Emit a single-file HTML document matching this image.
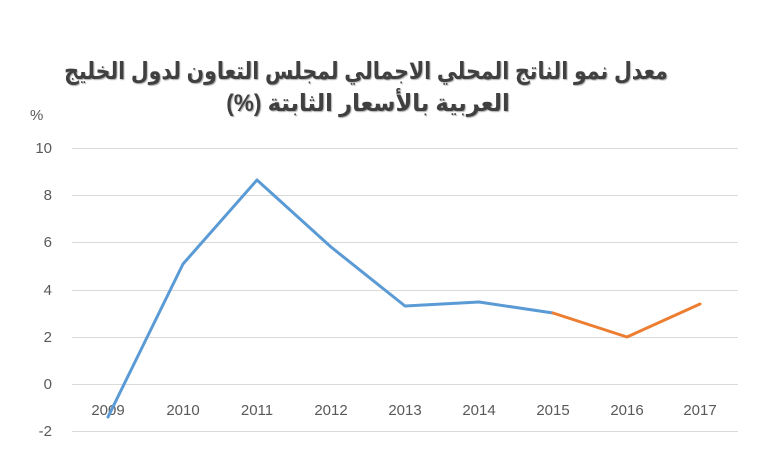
<!DOCTYPE html>
<html><head><meta charset="utf-8"><style>
html,body{margin:0;padding:0;background:#fff;}
svg{display:block;}
</style></head><body>
<svg width="768" height="459" viewBox="0 0 768 459" xmlns="http://www.w3.org/2000/svg">
<rect width="768" height="459" fill="#fff"/>
<g font-family="'Liberation Sans','DejaVu Sans',sans-serif" font-weight="bold" font-size="24" fill="#404040" text-anchor="middle" style="text-shadow:1px 1px 1px #aaa">
<text transform="translate(366,79) scale(0.855,1)" x="0" y="0" direction="rtl">معدل نمو الناتج المحلي الاجمالي لمجلس التعاون لدول الخليج</text>
<text transform="translate(368,111) scale(0.94,1)" x="0" y="0" direction="rtl">العربية بالأسعار الثابتة (%)</text>
</g>
<g font-family="'Liberation Sans',sans-serif" font-size="15" fill="#595959">
<text x="30" y="120">%</text>
<g text-anchor="end">
<text x="52" y="153">10</text>
<text x="52" y="200">8</text>
<text x="52" y="247">6</text>
<text x="52" y="295">4</text>
<text x="52" y="342">2</text>
<text x="52" y="389">0</text>
<text x="52" y="436">-2</text>
</g>
<g text-anchor="middle">
<text x="108" y="415">2009</text><text x="183" y="415">2010</text><text x="257" y="415">2011</text>
<text x="331" y="415">2012</text><text x="405" y="415">2013</text><text x="479" y="415">2014</text>
<text x="553" y="415">2015</text><text x="627" y="415">2016</text><text x="700" y="415">2017</text>
</g>
</g>
<g stroke="#d9d9d9" stroke-width="1">
<line x1="72" x2="738" y1="148.5" y2="148.5"/>
<line x1="72" x2="738" y1="195.5" y2="195.5"/>
<line x1="72" x2="738" y1="242.5" y2="242.5"/>
<line x1="72" x2="738" y1="290.5" y2="290.5"/>
<line x1="72" x2="738" y1="337.5" y2="337.5"/>
<line x1="72" x2="738" y1="384.5" y2="384.5"/>
<line x1="72" x2="738" y1="431.5" y2="431.5"/>
</g>
<polyline fill="none" stroke="#5b9bd5" stroke-width="3" stroke-linejoin="round" stroke-linecap="round"
 points="108,417 183,264 257,180 331,247 405,306 479,302 553,313"/>
<polyline fill="none" stroke="#ed7d31" stroke-width="3" stroke-linejoin="round" stroke-linecap="round"
 points="553,313 627,337 700,304"/>
</svg>
</body></html>
